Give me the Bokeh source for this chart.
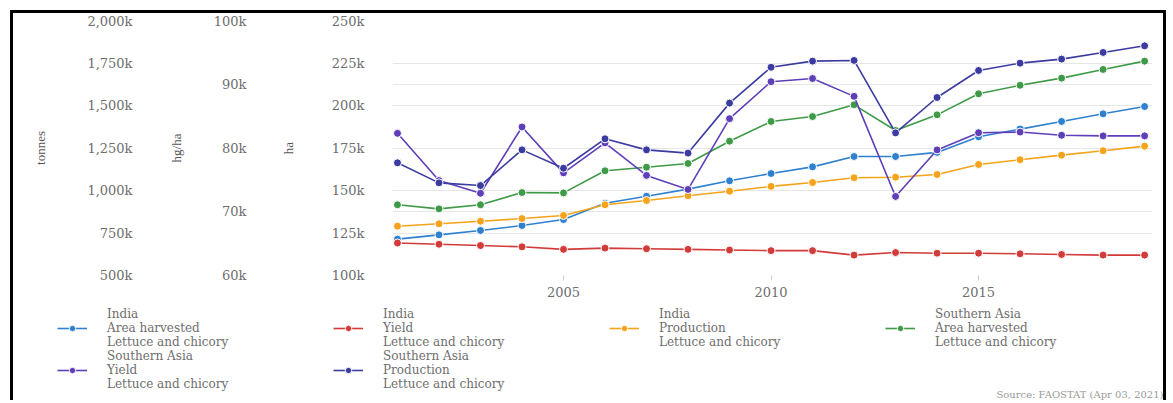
from bokeh.plotting import figure
from bokeh.layouts import column, row
from bokeh.models import (Range1d, LinearAxis, SingleIntervalTicker, FixedTicker, Grid,
                          CustomJSTickFormatter, Legend, LegendItem, Label)
from bokeh.embed import file_html
from bokeh.resources import INLINE

years = list(range(2001, 2020))

india_area = [121400, 123900, 126500, 129400, 132900, 142500, 146600, 150800, 155700, 160000,
              163900, 170000, 170000, 172400, 181600, 186100, 190600, 195100, 199400]
india_yield = [65100, 64900, 64700, 64500, 64100, 64300, 64200, 64100, 64000, 63900,
               63900, 63200, 63600, 63500, 63500, 63400, 63300, 63200, 63200]
india_prod = [790000, 804000, 819000, 835000, 853000, 916000, 941000, 969000, 996000, 1024000,
              1047000, 1075000, 1078000, 1094000, 1153000, 1181000, 1208000, 1234000, 1261000]
sa_area = [141600, 139200, 141600, 148800, 148600, 161600, 163700, 165900, 179000, 190600,
           193500, 200400, 185300, 194500, 206900, 211900, 216100, 221200, 226100]
sa_yield = [82300, 74900, 72900, 83300, 76100, 80800, 75700, 73500, 84600, 90400,
            90900, 88100, 72400, 79700, 82400, 82500, 82000, 81900, 81900]
sa_prod = [1163000, 1045000, 1029000, 1239000, 1131000, 1304000, 1239000, 1220000, 1514000, 1725000,
           1761000, 1765000, 1339000, 1547000, 1706000, 1749000, 1773000, 1812000, 1851000]

x_ticks = [2005, 2010, 2015]
source_text = "Source: FAOSTAT (Apr 03, 2021)"

series = [
    ("India\nArea harvested\nLettuce and chicory", india_area, "default", "#2f80cf"),
    ("India\nYield\nLettuce and chicory", india_yield, "hg", "#d33a3a"),
    ("India\nProduction\nLettuce and chicory", india_prod, "t", "#f5a31a"),
    ("Southern Asia\nArea harvested\nLettuce and chicory", sa_area, "default", "#3f9a47"),
    ("Southern Asia\nYield\nLettuce and chicory", sa_yield, "hg", "#5e3fb8"),
    ("Southern Asia\nProduction\nLettuce and chicory", sa_prod, "t", "#3b3ba0"),
]

TICK_FONT = "DejaVu Serif"
GRAY = "#6e6e6e"
BORDER = "3px solid black"

p = figure(width=1156, height=290,
           x_range=Range1d(2000.88, 2019.19), y_range=Range1d(100000, 250000),
           output_backend="svg", toolbar_location=None,
           min_border_left=379, min_border_right=17, min_border_top=7, min_border_bottom=28)
p.extra_y_ranges = {"hg": Range1d(60000, 100000), "t": Range1d(500000, 2000000)}
p.outline_line_color = None
p.styles = {"margin-left": "10px", "margin-top": "10px", "border-top": BORDER,
            "border-left": BORDER, "border-right": BORDER}

fmt_code = "return (tick/1000).toLocaleString('en-US') + 'k';"

def style_y(ax, label, standoff, title_standoff):
    ax.axis_label = label
    ax.axis_label_text_font = "Liberation Serif"
    ax.axis_label_text_font_style = "normal"
    ax.axis_label_text_font_size = "13px"
    ax.axis_label_text_color = "#555555"
    ax.axis_label_standoff = title_standoff
    ax.major_label_text_font = TICK_FONT
    ax.major_label_text_font_size = "13px"
    ax.major_label_text_color = GRAY
    ax.major_label_standoff = standoff
    ax.axis_line_color = None
    ax.major_tick_line_color = None
    ax.minor_tick_line_color = None
    ax.major_tick_out = 0
    ax.formatter = CustomJSTickFormatter(code=fmt_code)

ha_axis = p.yaxis[0]
ha_axis.ticker = SingleIntervalTicker(interval=25000)
style_y(ha_axis, "ha", 24, 33)

hg_axis = LinearAxis(y_range_name="hg", ticker=SingleIntervalTicker(interval=10000))
style_y(hg_axis, "hg/ha", 27, 27)
p.add_layout(hg_axis, "left")

t_axis = LinearAxis(y_range_name="t", ticker=SingleIntervalTicker(interval=250000))
style_y(t_axis, "tonnes", 29, 36)
p.add_layout(t_axis, "left")

p.xgrid.visible = False
p.ygrid.grid_line_color = "#e6e6e6"
p.add_layout(Grid(dimension=1, y_range_name="hg", ticker=hg_axis.ticker,
                  grid_line_color="#e6e6e6"))

xa = p.xaxis[0]
xa.ticker = FixedTicker(ticks=x_ticks)
xa.axis_line_color = None
xa.major_tick_line_color = "#cccccc"
xa.major_tick_out = 5
xa.major_tick_in = 0
xa.minor_tick_line_color = None
xa.major_label_text_font = TICK_FONT
xa.major_label_text_font_size = "13px"
xa.major_label_text_color = GRAY
xa.major_label_standoff = 6

for label, vals, rng, color in series:
    kw = {} if rng == "default" else {"y_range_name": rng}
    p.line(years, vals, line_color=color, line_width=1.6, **kw)
    p.scatter(years, vals, size=8, fill_color=color, line_color="white", line_width=1, **kw)

# legend panel below the chart (its own frame spans the whole width)
p2 = figure(width=1156, height=100, x_range=Range1d(0, 1), y_range=Range1d(0, 1),
            output_backend="svg", toolbar_location=None, min_border=0)
p2.axis.visible = False
p2.grid.visible = False
p2.outline_line_color = None
p2.styles = {"margin-left": "10px", "border-left": BORDER, "border-right": BORDER}

items = []
for label, vals, rng, color in series:
    # same series drawn far outside p2's view; used only for the legend glyphs
    r1 = p2.line(years, vals, line_color=color, line_width=1.6)
    r2 = p2.scatter(years, vals, size=7, fill_color=color, line_color="white", line_width=1)
    items.append(LegendItem(label=label, renderers=[r1, r2]))

legend = Legend(items=items, orientation="horizontal", ncols=4,
                location=(44, 9), margin=0, padding=0, spacing=0,
                glyph_width=30, glyph_height=16, label_standoff=20, label_width=226,
                label_text_font=TICK_FONT, label_text_font_size="12px",
                label_text_color=GRAY,
                border_line_color=None, background_fill_alpha=0)
p2.add_layout(legend, "center")

src = Label(x=1150, y=12, x_units="screen", y_units="screen", text=source_text,
            text_align="right", text_baseline="top", text_font=TICK_FONT,
            text_font_size="10px", text_color="#999999")
p2.add_layout(src)

layout = column(p, row(p2), spacing=0)
open("out.html", "w").write(file_html(layout, INLINE))
